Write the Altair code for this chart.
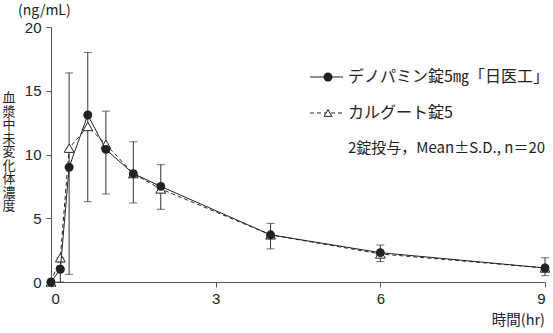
import altair as alt
import pandas as pd

# ---- data ----
times = [0, 0.17, 0.33, 0.67, 1, 1.5, 2, 4, 6, 9]
denopamin = [0, 1.0, 9.0, 13.1, 10.4, 8.5, 7.5, 3.7, 2.3, 1.1]
kalgut = [0, 1.9, 10.5, 12.2, 10.8, 8.5, 7.3, 3.7, 2.2, 1.1]
bar_times = [0.17, 0.33, 0.67, 1, 1.5, 2, 4, 6, 9]
bar_hi = [1.9, 16.4, 18.0, 13.4, 11.0, 9.2, 4.6, 2.9, 1.9]
bar_lo = [0.0, 0.6, 6.3, 6.9, 6.2, 5.7, 2.6, 1.6, 0.5]

x_ticks = [0, 3, 6, 9]
y_ticks = [0, 5, 10, 15, 20]

legend_1 = "デノパミン錠5㎎「日医工」"
legend_2 = "カルグート錠5"
note = "2錠投与，Mean±S.D., n＝20"
y_title = list("血漿中未変化体濃度")
y_unit = "(ng/mL)"
x_title = "時間(hr)"

JP = "Noto Sans CJK JP"
LAT = "Liberation Sans"
INK = "#222222"

df_a = pd.DataFrame({"t": times, "v": denopamin})
df_b = pd.DataFrame({"t": times, "v": kalgut})
df_bar = pd.DataFrame({"t": bar_times, "hi": bar_hi, "lo": bar_lo})
df_ytitle = pd.DataFrame({"ch": y_title, "i": list(range(len(y_title)))})

xs = alt.Scale(domain=[0, 9], nice=False, zero=False)
ys = alt.Scale(domain=[0, 20], nice=False)

x_enc = alt.X("t:Q", scale=xs, axis=alt.Axis(values=x_ticks, title=None, grid=False,
              tickSize=5, labelFontSize=15, labelFont=LAT, labelColor=INK,
              domainColor="#555", tickColor="#555", labelPadding=4, format="d"))
y_enc = alt.Y("v:Q", scale=ys, axis=alt.Axis(values=y_ticks, title=None, grid=False,
              tickSize=5, labelFontSize=15, labelFont=LAT, labelColor=INK,
              domainColor="#555", tickColor="#555", labelPadding=5, format="d"))

bars = alt.Chart(df_bar).mark_rule(color="#333", strokeWidth=1).encode(
    x=alt.X("t:Q", scale=xs), y=alt.Y("lo:Q", scale=ys), y2="hi:Q")
cap_hi = alt.Chart(df_bar).mark_tick(color="#333", orient="horizontal", size=8, thickness=1).encode(
    x=alt.X("t:Q", scale=xs), y=alt.Y("hi:Q", scale=ys))
cap_lo = alt.Chart(df_bar).mark_tick(color="#333", orient="horizontal", size=8, thickness=1).encode(
    x=alt.X("t:Q", scale=xs), y=alt.Y("lo:Q", scale=ys))

line_b = alt.Chart(df_b).mark_line(color=INK, strokeWidth=1, strokeDash=[4, 3]).encode(x=x_enc, y=y_enc)
pts_b = alt.Chart(df_b).mark_point(shape="triangle-up", size=95, filled=True, fill="white",
                                   stroke=INK, strokeWidth=1, opacity=1).encode(x=x_enc, y=y_enc)
line_a = alt.Chart(df_a).mark_line(color=INK, strokeWidth=1).encode(x=x_enc, y=y_enc)
pts_a = alt.Chart(df_a).mark_point(shape="circle", size=80, filled=True, color=INK, opacity=1).encode(x=x_enc, y=y_enc)

# ---- annotations (legend, titles) ----
anno = alt.Chart(pd.DataFrame({"k": [0]}))
leg_line1 = anno.mark_rule(color=INK, strokeWidth=1).encode(
    x=alt.value(259), x2=alt.value(292), y=alt.value(50))
leg_pt1 = anno.mark_point(shape="circle", size=80, filled=True, color=INK, opacity=1).encode(
    x=alt.value(277), y=alt.value(50))
leg_line2 = anno.mark_rule(color=INK, strokeWidth=1, strokeDash=[4, 3]).encode(
    x=alt.value(259), x2=alt.value(292), y=alt.value(86))
leg_pt2 = anno.mark_point(shape="triangle-up", size=60, filled=True, fill="white", stroke=INK,
                          strokeWidth=1, opacity=1).encode(x=alt.value(277), y=alt.value(86))
leg_t1 = anno.mark_text(text=legend_1, font=JP, fontSize=16, color=INK, align="left", baseline="middle").encode(
    x=alt.value(297), y=alt.value(50))
leg_t2 = anno.mark_text(text=legend_2, font=JP, fontSize=16, color=INK, align="left", baseline="middle").encode(
    x=alt.value(297), y=alt.value(86))
leg_t3 = anno.mark_text(text=note, font=JP, fontSize=15, color=INK, align="left", baseline="middle").encode(
    x=alt.value(297), y=alt.value(121))
t_unit = anno.mark_text(text=y_unit, font=JP, fontSize=14, color=INK, align="left", baseline="middle").encode(
    x=alt.value(-33), y=alt.value(-16))
t_ytitle = anno.mark_text(text=y_title, font=JP, fontSize=13, lineHeight=13.5, color=INK,
                          align="center", baseline="top").encode(x=alt.value(-42), y=alt.value(65))
t_xtitle = anno.mark_text(text=x_title, font=JP, fontSize=14.5, color=INK, align="right", baseline="middle").encode(
    x=alt.value(494), y=alt.value(294))

chart = alt.layer(
    bars, cap_hi, cap_lo, line_b, pts_b, line_a, pts_a,
    leg_line1, leg_pt1, leg_line2, leg_pt2, leg_t1, leg_t2, leg_t3,
    t_unit, t_ytitle, t_xtitle,
).properties(
    width=494, height=255,
    autosize=alt.AutoSizeParams(type="none"),
    padding={"left": 51, "top": 27, "right": 8, "bottom": 51},
    background="white",
).configure_view(stroke=None)

chart.save("out.html", embed_options={"renderer": "svg", "actions": False})
